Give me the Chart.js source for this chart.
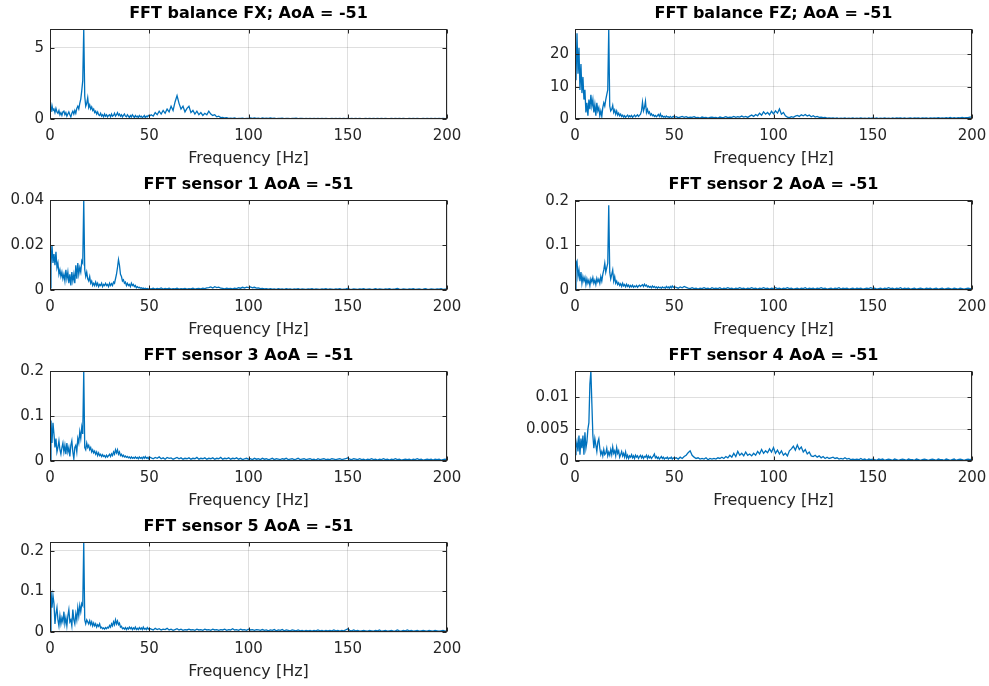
<!DOCTYPE html>
<html>
<head>
<meta charset="utf-8">
<script src="https://cdn.jsdelivr.net/npm/chart.js@4/dist/chart.umd.min.js"></script>
<style>
html,body{margin:0;padding:0;background:#ffffff;width:989px;height:686px;overflow:hidden;}
body{position:relative;}
.cw{position:absolute;}
canvas{display:block;}
</style>
</head>
<body>
<script>
// ---------------- DATA ----------------
const TITLES = [
  'FFT balance FX; AoA = -51',
  'FFT balance FZ; AoA = -51',
  'FFT sensor 1 AoA = -51',
  'FFT sensor 2 AoA = -51',
  'FFT sensor 3 AoA = -51',
  'FFT sensor 4 AoA = -51',
  'FFT sensor 5 AoA = -51'
];
const X_LABEL = 'Frequency [Hz]';
const X_TICKS = [0, 50, 100, 150, 200];
const Y_TICKS = [[0,5],[0,10,20],[0,0.02,0.04],[0,0.1,0.2],[0,0.1,0.2],[0,0.005,0.01],[0,0.1,0.2]];
const Y_MAX = [6.33, 27.8, 0.04, 0.202, 0.2, 0.0141, 0.2215];

const FREQ = [
0,0.5,1,1.5,2,2.5,3,3.5,4,4.5,
5,5.5,6,6.5,7,7.5,8,8.5,9,9.5,
10,10.5,11,11.5,12,12.5,13,13.5,14,14.5,
15,15.5,16,16.5,17,17.5,18,18.5,19,19.5,
20,20.5,21,21.5,22,22.5,23,23.5,24,24.5,
25,25.5,26,26.5,27,27.5,28,28.5,29,29.5,
30,30.5,31,31.5,32,32.5,33,33.5,34,34.5,
35,35.5,36,36.5,37,37.5,38,38.5,39,39.5,
40,40.5,41,41.5,42,42.5,43,43.5,44,44.5,
45,45.5,46,46.5,47,47.5,48,48.5,49,49.5,
50,
51,52,53,54,55,56,57,58,59,60,
61,62,63,64,65,66,67,68,69,70,
71,72,73,74,75,76,77,78,79,80,
81,82,83,84,85,86,87,88,89,90,
91,92,93,94,95,96,97,98,99,100,
101,102,103,104,105,106,107,108,109,110,
111,112,113,114,115,116,117,118,119,120,
121,122,123,124,125,126,127,128,129,130,
131,132,133,134,135,136,137,138,139,140,
141,142,143,144,145,146,147,148,149,150,
151,152,153,154,155,156,157,158,159,160,
161,162,163,164,165,166,167,168,169,170,
171,172,173,174,175,176,177,178,179,180,
181,182,183,184,185,186,187,188,189,190,
191,192,193,194,195,196,197,198,199,200
];

const FX_AMP = [
0.85,0.5,0.95,0.6,0.7,0.45,0.75,0.5,0.4,0.6,
0.3,0.45,0.25,0.5,0.55,0.3,0.45,0.2,0.35,0.5,
0.3,0.15,0.4,0.55,0.35,0.6,0.4,0.75,0.9,0.7,
1.1,1.4,2.0,2.7,6.33,1.6,0.9,1.1,1.5,0.8,
1.0,0.7,0.85,0.6,0.7,0.45,0.55,0.35,0.5,0.3,
0.25,0.4,0.2,0.3,0.15,0.35,0.2,0.3,0.15,0.25,
0.3,0.15,0.35,0.2,0.25,0.4,0.2,0.3,0.45,0.25,
0.35,0.2,0.3,0.15,0.25,0.35,0.2,0.15,0.3,0.2,
0.1,0.25,0.15,0.3,0.2,0.1,0.25,0.15,0.2,0.1,
0.25,0.15,0.2,0.1,0.15,0.25,0.1,0.2,0.15,0.25,
0.2,
0.3,0.2,0.45,0.3,0.55,0.35,0.6,0.4,0.7,0.5,
0.9,0.6,1.2,1.65,1.1,0.7,0.9,0.5,0.75,0.9,
0.45,0.6,0.35,0.55,0.3,0.45,0.25,0.4,0.3,0.55,
0.35,0.25,0.3,0.15,0.2,0.1,0.12,0.07,0.09,0.05,
0.06,0.04,0.07,0.03,0.05,0.04,0.06,0.03,0.05,0.04,
0.07,0.04,0.08,0.05,0.06,0.03,0.07,0.04,0.06,0.05,
0.08,0.04,0.06,0.03,0.05,0.04,0.06,0.03,0.04,0.05,
0.03,0.05,0.04,0.06,0.03,0.04,0.05,0.03,0.04,0.02,
0.04,0.03,0.05,0.02,0.04,0.03,0.05,0.03,0.04,0.02,
0.03,0.05,0.03,0.04,0.02,0.04,0.03,0.05,0.03,0.04,
0.02,0.04,0.03,0.05,0.03,0.04,0.02,0.03,0.04,0.03,
0.05,0.03,0.04,0.02,0.04,0.03,0.05,0.03,0.04,0.02,
0.03,0.04,0.03,0.05,0.02,0.04,0.03,0.04,0.02,0.03,
0.04,0.03,0.05,0.03,0.04,0.02,0.03,0.04,0.03,0.05,
0.03,0.04,0.02,0.04,0.03,0.05,0.03,0.04,0.03,0.04
];

const FZ_AMP = [
20,12,26.5,14,22,9,17,8,13,6,
9,2,5,1,6,3,7.5,4,6,2,
4.5,1,5,2.5,3.5,1,2.5,0.8,3.5,5,
4,6,7.5,9,27.8,4,2.5,3,4.2,2,
2.8,1.5,2.5,1.2,1.8,1,1.5,0.8,1.2,0.6,
1,0.5,0.9,1.2,0.6,1,0.7,1.1,0.5,0.9,
1.2,0.7,1,1.3,0.8,1.1,1.5,2.5,5.2,2.5,
3.5,5.5,2,3,1.8,2.2,1.2,1.6,1,1.3,
0.8,1.1,0.7,1,1.4,0.8,1.6,0.7,1,0.6,
0.8,0.5,0.9,0.6,0.7,0.4,0.8,0.5,0.6,0.8,
0.5,
0.7,0.4,0.6,0.8,0.5,0.7,0.4,0.6,0.5,0.7,
0.4,0.5,0.3,0.6,0.4,0.5,0.3,0.5,0.6,0.4,
0.5,0.3,0.6,0.4,0.5,0.7,0.4,0.6,0.5,0.8,
0.5,0.7,0.6,0.9,0.6,0.8,0.5,0.9,1.2,0.8,
1.4,1.0,1.8,1.2,2.2,1.5,2.0,1.3,2.4,1.6,
2.5,1.8,3.1,1.5,2.0,1.0,0.6,0.4,0.7,0.5,
0.9,1.1,0.8,1.3,1.0,1.4,0.9,1.2,0.7,1.0,
0.6,0.8,0.5,0.6,0.4,0.5,0.3,0.35,0.25,0.3,
0.2,0.3,0.15,0.25,0.2,0.3,0.15,0.25,0.2,0.3,
0.15,0.25,0.2,0.3,0.2,0.25,0.15,0.3,0.2,0.35,
0.2,0.3,0.15,0.25,0.2,0.3,0.2,0.25,0.15,0.3,
0.2,0.3,0.25,0.35,0.2,0.3,0.2,0.25,0.3,0.2,
0.3,0.25,0.35,0.2,0.3,0.25,0.35,0.2,0.3,0.25,
0.35,0.25,0.4,0.3,0.35,0.25,0.4,0.3,0.45,0.3,
0.4,0.3,0.45,0.35,0.5,0.35,0.45,0.4,0.55,0.6
];

const S1_AMP = [
0.001,0.011,0.02,0.012,0.016,0.011,0.017,0.01,0.012,0.007,
0.009,0.006,0.008,0.005,0.007,0.004,0.009,0.005,0.008,0.003,
0.007,0.002,0.008,0.004,0.007,0.003,0.011,0.005,0.012,0.007,
0.01,0.008,0.013,0.012,0.04,0.009,0.006,0.008,0.005,0.004,
0.006,0.003,0.004,0.002,0.003,0.002,0.0035,0.002,0.003,0.0015,
0.0025,0.002,0.003,0.0015,0.0025,0.002,0.003,0.002,0.0025,0.0015,
0.003,0.002,0.0028,0.002,0.0035,0.003,0.005,0.007,0.01,0.0135,
0.011,0.007,0.006,0.004,0.0045,0.003,0.0035,0.002,0.003,0.002,
0.0025,0.0015,0.003,0.002,0.0025,0.0015,0.002,0.001,0.0015,0.001,
0.0012,0.0008,0.001,0.0006,0.0009,0.0005,0.0008,0.0005,0.0007,0.0004,
0.0006,
0.0005,0.0008,0.0004,0.0007,0.0005,0.0009,0.0004,0.0007,0.0005,0.0008,
0.0004,0.0006,0.0005,0.0008,0.0004,0.0006,0.0005,0.0007,0.0004,0.0006,
0.0005,0.0008,0.0004,0.0006,0.0007,0.0005,0.0008,0.0006,0.0009,0.0011,
0.0014,0.0009,0.0015,0.0011,0.0013,0.0008,0.0007,0.0005,0.0008,0.0006,
0.0007,0.0005,0.0008,0.0006,0.001,0.0008,0.0012,0.0009,0.0013,0.0011,
0.0014,0.001,0.0012,0.0008,0.0009,0.0006,0.0007,0.0005,0.0006,0.0004,
0.0006,0.0004,0.0005,0.0003,0.0006,0.0004,0.0005,0.0003,0.0006,0.0004,
0.0005,0.0003,0.0005,0.0004,0.0006,0.0003,0.0005,0.0004,0.0003,0.0005,
0.0004,0.0006,0.0003,0.0005,0.0004,0.0003,0.0005,0.0004,0.0006,0.0003,
0.0005,0.0004,0.0003,0.0005,0.0004,0.0006,0.0003,0.0004,0.0005,0.0007,
0.0004,0.0003,0.0005,0.0004,0.0003,0.0005,0.0004,0.0006,0.0003,0.0004,
0.0005,0.0003,0.0004,0.0006,0.0003,0.0005,0.0004,0.0003,0.0005,0.0004,
0.0006,0.0003,0.0004,0.0005,0.0007,0.0004,0.0003,0.0005,0.0004,0.0003,
0.0005,0.0004,0.0006,0.0003,0.0004,0.0005,0.0003,0.0004,0.0006,0.0004,
0.0003,0.0005,0.0004,0.0003,0.0005,0.0004,0.0006,0.0003,0.0004,0.0005
];

const S2_AMP = [
0.002,0.06,0.065,0.03,0.045,0.02,0.04,0.015,0.03,0.02,
0.028,0.012,0.025,0.015,0.022,0.01,0.025,0.018,0.028,0.015,
0.022,0.012,0.026,0.018,0.024,0.015,0.03,0.02,0.035,0.045,
0.06,0.04,0.05,0.06,0.19,0.04,0.025,0.035,0.045,0.02,
0.03,0.015,0.02,0.012,0.016,0.01,0.014,0.008,0.015,0.009,
0.012,0.007,0.013,0.008,0.011,0.006,0.01,0.007,0.011,0.006,
0.009,0.007,0.01,0.006,0.009,0.011,0.008,0.01,0.012,0.008,
0.013,0.009,0.011,0.007,0.009,0.006,0.008,0.005,0.009,0.006,
0.008,0.005,0.007,0.004,0.007,0.005,0.006,0.004,0.007,0.005,
0.006,0.004,0.008,0.005,0.007,0.004,0.008,0.005,0.009,0.006,
0.007,
0.006,0.004,0.007,0.005,0.008,0.006,0.004,0.003,0.005,0.003,
0.004,0.002,0.004,0.003,0.005,0.003,0.004,0.002,0.005,0.003,
0.004,0.003,0.005,0.002,0.004,0.003,0.005,0.003,0.004,0.002,
0.004,0.003,0.005,0.003,0.004,0.002,0.004,0.003,0.005,0.003,
0.004,0.002,0.004,0.003,0.005,0.003,0.004,0.002,0.004,0.003,
0.005,0.003,0.004,0.002,0.004,0.003,0.005,0.003,0.004,0.002,
0.003,0.004,0.002,0.004,0.003,0.005,0.002,0.004,0.003,0.004,
0.002,0.004,0.003,0.005,0.003,0.004,0.002,0.003,0.004,0.002,
0.004,0.003,0.005,0.002,0.004,0.003,0.004,0.002,0.003,0.004,
0.002,0.004,0.003,0.004,0.002,0.003,0.004,0.003,0.005,0.003,
0.004,0.002,0.003,0.004,0.002,0.004,0.003,0.005,0.003,0.004,
0.002,0.004,0.003,0.005,0.002,0.004,0.003,0.004,0.002,0.003,
0.004,0.002,0.003,0.004,0.003,0.002,0.004,0.003,0.004,0.002,
0.003,0.004,0.002,0.003,0.004,0.002,0.003,0.004,0.003,0.002,
0.004,0.003,0.002,0.004,0.003,0.002,0.003,0.004,0.003,0.003
];

const S3_AMP = [
0.002,0.09,0.04,0.085,0.06,0.03,0.05,0.02,0.03,0.045,
0.025,0.015,0.03,0.04,0.02,0.035,0.015,0.04,0.02,0.03,
0.01,0.035,0.045,0.02,0.005,0.03,0.035,0.02,0.05,0.04,
0.065,0.05,0.075,0.06,0.2,0.03,0.025,0.04,0.03,0.035,
0.025,0.03,0.02,0.025,0.018,0.022,0.015,0.02,0.012,0.018,
0.012,0.015,0.01,0.014,0.01,0.012,0.008,0.013,0.009,0.012,
0.015,0.01,0.016,0.012,0.02,0.015,0.025,0.018,0.025,0.015,
0.02,0.012,0.015,0.01,0.013,0.009,0.011,0.008,0.01,0.007,
0.009,0.006,0.009,0.006,0.008,0.006,0.009,0.006,0.008,0.005,
0.009,0.006,0.008,0.005,0.009,0.006,0.01,0.006,0.008,0.005,
0.009,
0.007,0.005,0.008,0.006,0.009,0.005,0.007,0.004,0.008,0.006,
0.007,0.004,0.006,0.008,0.005,0.007,0.004,0.006,0.005,0.007,
0.004,0.006,0.005,0.008,0.004,0.006,0.005,0.007,0.004,0.006,
0.005,0.007,0.004,0.006,0.005,0.008,0.004,0.006,0.005,0.007,
0.004,0.006,0.005,0.007,0.004,0.006,0.003,0.005,0.006,0.004,
0.005,0.003,0.006,0.004,0.005,0.003,0.006,0.004,0.005,0.003,
0.004,0.006,0.003,0.005,0.004,0.003,0.005,0.004,0.006,0.003,
0.004,0.005,0.003,0.004,0.006,0.003,0.004,0.005,0.003,0.004,
0.005,0.003,0.004,0.002,0.005,0.003,0.004,0.005,0.003,0.004,
0.003,0.005,0.004,0.003,0.004,0.005,0.003,0.004,0.005,0.007,
0.004,0.003,0.005,0.004,0.003,0.005,0.003,0.004,0.002,0.004,
0.003,0.005,0.003,0.004,0.002,0.004,0.003,0.005,0.003,0.004,
0.002,0.004,0.003,0.005,0.003,0.004,0.002,0.003,0.004,0.003,
0.004,0.002,0.004,0.003,0.005,0.003,0.004,0.002,0.003,0.004,
0.003,0.004,0.002,0.004,0.003,0.004,0.002,0.003,0.004,0.003
];

const S4_AMP = [
0.001,0.002,0.003,0.0015,0.004,0.001,0.0035,0.002,0.004,0.001,
0.0045,0.002,0.003,0.005,0.006,0.012,0.0141,0.009,0.004,0.002,
0.0035,0.0025,0.0015,0.003,0.0035,0.002,0.001,0.0015,0.0008,0.0018,
0.001,0.0012,0.002,0.0008,0.0014,0.0009,0.0018,0.001,0.0022,0.0012,
0.0016,0.0008,0.0021,0.0012,0.0016,0.0006,0.001,0.0015,0.0008,0.0012,
0.0006,0.0014,0.0005,0.0009,0.0004,0.0008,0.0006,0.001,0.0005,0.0008,
0.0004,0.0009,0.0006,0.0008,0.0004,0.0007,0.0009,0.0005,0.0008,0.0004,
0.0007,0.0006,0.0009,0.0004,0.0008,0.0005,0.0007,0.0004,0.0006,0.0008,
0.0011,0.0005,0.0007,0.0004,0.0006,0.0003,0.0005,0.0007,0.0004,0.0006,
0.0003,0.0005,0.0004,0.0006,0.0003,0.0005,0.0004,0.0006,0.0003,0.0005,
0.0004,
0.0005,0.0003,0.0006,0.0004,0.0007,0.0009,0.0013,0.0016,0.0009,0.0006,
0.0004,0.0005,0.0003,0.0004,0.0003,0.0005,0.0002,0.0004,0.0003,0.0004,
0.0003,0.0005,0.0004,0.0006,0.0004,0.0007,0.0005,0.0009,0.0006,0.0012,
0.0007,0.0015,0.0009,0.0012,0.0008,0.0014,0.0009,0.0011,0.0008,0.0012,
0.0009,0.0015,0.0011,0.0018,0.0012,0.0016,0.0013,0.0019,0.0014,0.0021,
0.0012,0.0017,0.0011,0.0016,0.0009,0.0012,0.0008,0.0016,0.0019,0.0023,
0.0017,0.0025,0.0018,0.0022,0.0014,0.0018,0.0011,0.0014,0.0008,0.0007,
0.0009,0.0006,0.0008,0.0005,0.0007,0.0004,0.0006,0.0004,0.0005,0.0006,
0.0004,0.0005,0.0003,0.0004,0.0003,0.0005,0.0003,0.0004,0.0002,0.0003,
0.0002,0.0003,0.0002,0.0004,0.0002,0.0003,0.0001,0.0003,0.0002,0.0003,
0.0002,0.0001,0.0003,0.0002,0.0003,0.0001,0.0002,0.0003,0.0002,0.0001,
0.0003,0.0002,0.0001,0.0002,0.0003,0.0002,0.0001,0.0003,0.0002,0.0002,
0.0001,0.0003,0.0002,0.0001,0.0002,0.0003,0.0002,0.0001,0.0002,0.0003,
0.0002,0.0001,0.0003,0.0002,0.0002,0.0001,0.0003,0.0002,0.0001,0.0002,
0.0003,0.0001,0.0002,0.0003,0.0002,0.0001,0.0002,0.0003,0.0002,0.0003
];

const S5_AMP = [
0.002,0.1,0.06,0.09,0.07,0.02,0.045,0.06,0.03,0.015,
0.04,0.02,0.035,0.025,0.05,0.02,0.035,0.015,0.04,0.055,
0.025,0.03,0.015,0.055,0.03,0.02,0.045,0.03,0.06,0.04,
0.065,0.05,0.07,0.065,0.2215,0.03,0.02,0.03,0.025,0.02,
0.028,0.018,0.025,0.015,0.022,0.015,0.02,0.012,0.018,0.014,
0.02,0.01,0.012,0.008,0.01,0.007,0.011,0.008,0.012,0.01,
0.016,0.012,0.02,0.015,0.025,0.018,0.03,0.02,0.027,0.018,
0.022,0.012,0.014,0.008,0.01,0.007,0.011,0.006,0.01,0.007,
0.012,0.008,0.011,0.006,0.01,0.007,0.012,0.006,0.009,0.006,
0.011,0.007,0.01,0.006,0.012,0.007,0.009,0.006,0.011,0.007,
0.009,
0.007,0.005,0.009,0.006,0.008,0.005,0.007,0.006,0.009,0.005,
0.007,0.004,0.006,0.008,0.005,0.007,0.004,0.006,0.005,0.007,
0.005,0.006,0.004,0.007,0.005,0.006,0.004,0.007,0.005,0.006,
0.004,0.007,0.005,0.006,0.004,0.006,0.005,0.007,0.004,0.006,
0.005,0.008,0.005,0.006,0.004,0.007,0.005,0.006,0.004,0.007,
0.005,0.006,0.004,0.006,0.005,0.004,0.006,0.004,0.005,0.003,
0.005,0.004,0.006,0.003,0.005,0.004,0.006,0.003,0.005,0.004,
0.003,0.005,0.004,0.003,0.005,0.003,0.004,0.002,0.004,0.003,
0.004,0.002,0.004,0.003,0.005,0.003,0.004,0.002,0.004,0.003,
0.004,0.003,0.005,0.003,0.004,0.002,0.004,0.003,0.005,0.008,
0.004,0.003,0.005,0.003,0.004,0.002,0.003,0.004,0.003,0.002,
0.004,0.003,0.002,0.004,0.003,0.005,0.002,0.003,0.004,0.002,
0.003,0.004,0.002,0.003,0.005,0.003,0.002,0.004,0.003,0.005,
0.003,0.004,0.002,0.003,0.004,0.002,0.003,0.004,0.003,0.002,
0.004,0.003,0.002,0.004,0.003,0.002,0.003,0.004,0.002,0.003
];

const SERIES = [FX_AMP, FZ_AMP, S1_AMP, S2_AMP, S3_AMP, S4_AMP, S5_AMP];

// ---------------- LAYOUT ----------------
const PLOT_LEFT = [50, 575, 50, 575, 50, 575, 50];
const PLOT_TOP  = [29, 29, 200, 200, 371, 371, 542];
const PLOT_W = 397, PLOT_H = 90;
const YAXIS_W = 50, TITLE_H = 29, XAXIS_H = 50, RIGHT_PAD = 16;

const LINE_COLOR = '#0072BD';
const AXIS_COLOR = '#262626';
const GRID_COLOR = 'rgba(38,38,38,0.15)';
const FONT = "'DejaVu Sans', 'Liberation Sans', Arial, sans-serif";

const boxPlugin = {
  id: 'matlabBox',
  afterDraw(chart) {
    const {ctx, chartArea: a, scales} = chart;
    const l = Math.round(a.left) + 0.5, r = Math.round(a.right) - 0.5;
    const t = Math.round(a.top) + 0.5, b = Math.round(a.bottom) - 0.5;
    ctx.save();
    ctx.strokeStyle = AXIS_COLOR;
    ctx.lineWidth = 1;
    ctx.strokeRect(l, t, r - l, b - t);
    ctx.beginPath();
    scales.x.ticks.forEach(tk => {
      const x = Math.round(scales.x.getPixelForValue(tk.value)) + 0.5;
      ctx.moveTo(x, b); ctx.lineTo(x, b - 4);
      ctx.moveTo(x, t); ctx.lineTo(x, t + 4);
    });
    scales.y.ticks.forEach(tk => {
      const y = Math.round(scales.y.getPixelForValue(tk.value)) + 0.5;
      ctx.moveTo(l, y); ctx.lineTo(l + 4, y);
      ctx.moveTo(r, y); ctx.lineTo(r - 4, y);
    });
    ctx.stroke();
    ctx.restore();
  }
};

SERIES.forEach((vals, i) => {
  const wrap = document.createElement('div');
  wrap.className = 'cw';
  const cw = YAXIS_W + PLOT_W + RIGHT_PAD;
  const ch = TITLE_H + PLOT_H + XAXIS_H;
  wrap.style.left = (PLOT_LEFT[i] - YAXIS_W) + 'px';
  wrap.style.top = (PLOT_TOP[i] - TITLE_H) + 'px';
  wrap.style.width = cw + 'px';
  wrap.style.height = ch + 'px';
  const cv = document.createElement('canvas');
  cv.width = cw; cv.height = ch;
  cv.style.width = cw + 'px'; cv.style.height = ch + 'px';
  wrap.appendChild(cv);
  document.body.appendChild(wrap);

  const yt = Y_TICKS[i];
  new Chart(cv, {
    type: 'line',
    data: {
      datasets: [{
        data: FREQ.map((f, k) => ({x: f, y: vals[k]})),
        borderColor: LINE_COLOR,
        borderWidth: 1.3,
        pointRadius: 0,
        tension: 0,
        fill: false
      }]
    },
    options: {
      responsive: false,
      animation: false,
      events: [],
      devicePixelRatio: 1,
      layout: {padding: {left: 0, right: RIGHT_PAD, top: 0, bottom: 0}},
      plugins: {
        legend: {display: false},
        tooltip: {enabled: false},
        title: {
          display: true,
          text: TITLES[i],
          fullSize: false,
          color: '#000000',
          font: {family: FONT, size: 16, weight: 'bold', lineHeight: 1.25},
          padding: {top: 4, bottom: 5}
        }
      },
      scales: {
        x: {
          type: 'linear',
          min: 0, max: 200,
          afterBuildTicks: s => { s.ticks = X_TICKS.map(v => ({value: v})); },
          afterFit: s => { s.height = XAXIS_H; s.paddingLeft = 0; s.paddingRight = 0; },
          ticks: {
            color: AXIS_COLOR,
            font: {family: FONT, size: 15, lineHeight: 1.2},
            padding: 8,
            maxRotation: 0,
            autoSkip: false,
            callback: v => String(v)
          },
          grid: {color: GRID_COLOR, drawTicks: false, lineWidth: 1},
          border: {display: false},
          title: {
            display: true,
            text: X_LABEL,
            color: AXIS_COLOR,
            font: {family: FONT, size: 16, lineHeight: 1.25},
            padding: {top: 0, bottom: 0}
          }
        },
        y: {
          type: 'linear',
          min: 0, max: Y_MAX[i],
          afterBuildTicks: s => { s.ticks = yt.map(v => ({value: v})); },
          afterFit: s => { s.width = YAXIS_W; s.paddingTop = 0; s.paddingBottom = 0; },
          ticks: {
            color: AXIS_COLOR,
            font: {family: FONT, size: 15, lineHeight: 1.2},
            padding: 6,
            autoSkip: false,
            callback: v => String(v)
          },
          grid: {color: GRID_COLOR, drawTicks: false, lineWidth: 1},
          border: {display: false}
        }
      }
    },
    plugins: [boxPlugin]
  });
});
</script>
</body>
</html>
